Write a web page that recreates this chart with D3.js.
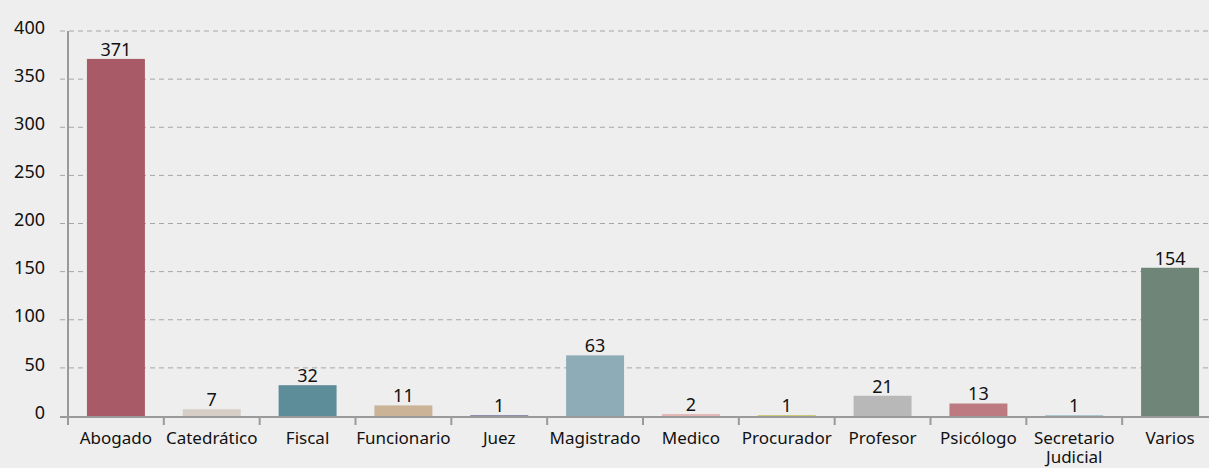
<!DOCTYPE html>
<html>
<head>
<meta charset="utf-8">
<script src="https://cdn.jsdelivr.net/npm/d3@7"></script>
<style>
  html, body { margin: 0; padding: 0; background: #eeeeee; overflow: hidden; }
  svg { display: block; font-family: "Noto Sans", sans-serif; }
</style>
</head>
<body>
<svg id="bar-chart"></svg>
<script>
const categories = ["Abogado", "Catedrático", "Fiscal", "Funcionario", "Juez", "Magistrado",
  "Medico", "Procurador", "Profesor", "Psicólogo", "Secretario Judicial", "Varios"];
const values = [371, 7, 32, 11, 1, 63, 2, 1, 21, 13, 1, 154];
const colors = ["#a85a66", "#d6cdc6", "#5d8d99", "#cbb398", "#8a8aab", "#8eabb8",
  "#e3b7b5", "#c9c873", "#b8b8b8", "#bd7b81", "#a9c2c9", "#6e8577"];
const yTicks = [0, 50, 100, 150, 200, 250, 300, 350, 400];

const width = 1209, height = 468;
const margin = {top: 31, right: -9, bottom: 52, left: 68};

const svg = d3.select("#bar-chart").attr("width", width).attr("height", height);

const x = d3.scaleBand()
  .domain(categories)
  .range([margin.left, width - margin.right])
  .paddingInner(0.395)
  .paddingOuter(0.1975);

const y = d3.scaleLinear()
  .domain([0, 400])
  .range([height - margin.bottom, margin.top]);

// grid lines
svg.append("g")
  .selectAll("line")
  .data(yTicks.filter(d => d > 0))
  .enter().append("line")
    .attr("x1", margin.left - 8)
    .attr("x2", width)
    .attr("y1", d => y(d))
    .attr("y2", d => y(d))
    .attr("stroke", "#a6a6a6")
    .attr("stroke-width", 1)
    .attr("stroke-dasharray", "5,4");

// y labels
svg.append("g")
  .selectAll("text")
  .data(yTicks)
  .enter().append("text")
    .attr("x", margin.left - 23)
    .attr("y", d => y(d))
    .attr("dy", "0.15em")
    .attr("text-anchor", "end")
    .style("font-size", "18px")
    .attr("fill", "#111")
    .text(d => d);

// bars
svg.append("g")
  .selectAll("rect")
  .data(values)
  .enter().append("rect")
    .attr("x", (d, i) => x(categories[i]))
    .attr("y", d => y(d))
    .attr("width", x.bandwidth())
    .attr("height", d => y(0) - y(d))
    .attr("fill", (d, i) => colors[i]);

// value labels
svg.append("g")
  .selectAll("text")
  .data(values)
  .enter().append("text")
    .attr("x", (d, i) => x(categories[i]) + x.bandwidth() / 2)
    .attr("y", d => y(d) - 3)
    .attr("text-anchor", "middle")
    .style("font-size", "18px")
    .attr("fill", "#111")
    .text(d => d);

// axes lines (x axis drawn just under the bars so 1-unit bars stay visible)
const axis = svg.append("g").attr("stroke", "#9a9a9a").attr("stroke-width", 2);
axis.append("line")
  .attr("x1", margin.left).attr("x2", margin.left)
  .attr("y1", margin.top).attr("y2", y(0) + 9);
axis.append("line")
  .attr("x1", margin.left - 8).attr("x2", width)
  .attr("y1", y(0) + 1).attr("y2", y(0) + 1);

const step = x.step();
axis.selectAll("line.tick")
  .data(d3.range(categories.length + 1))
  .enter().append("line")
    .attr("class", "tick")
    .attr("x1", i => margin.left + i * step)
    .attr("x2", i => margin.left + i * step)
    .attr("y1", y(0) + 1)
    .attr("y2", y(0) + 9);

// category labels
const labels = svg.append("g")
  .selectAll("text")
  .data(categories)
  .enter().append("text")
    .attr("x", d => x(d) + x.bandwidth() / 2)
    .attr("y", y(0) + 28)
    .attr("text-anchor", "middle")
    .style("font-size", "17px")
    .attr("fill", "#111");

labels.each(function(d) {
  const words = d === "Secretario Judicial" ? ["Secretario", "Judicial"] : [d];
  d3.select(this).selectAll("tspan")
    .data(words)
    .enter().append("tspan")
      .attr("x", d3.select(this).attr("x"))
      .attr("dy", (w, j) => j === 0 ? 0 : 19)
      .text(w => w);
});
</script>
</body>
</html>
